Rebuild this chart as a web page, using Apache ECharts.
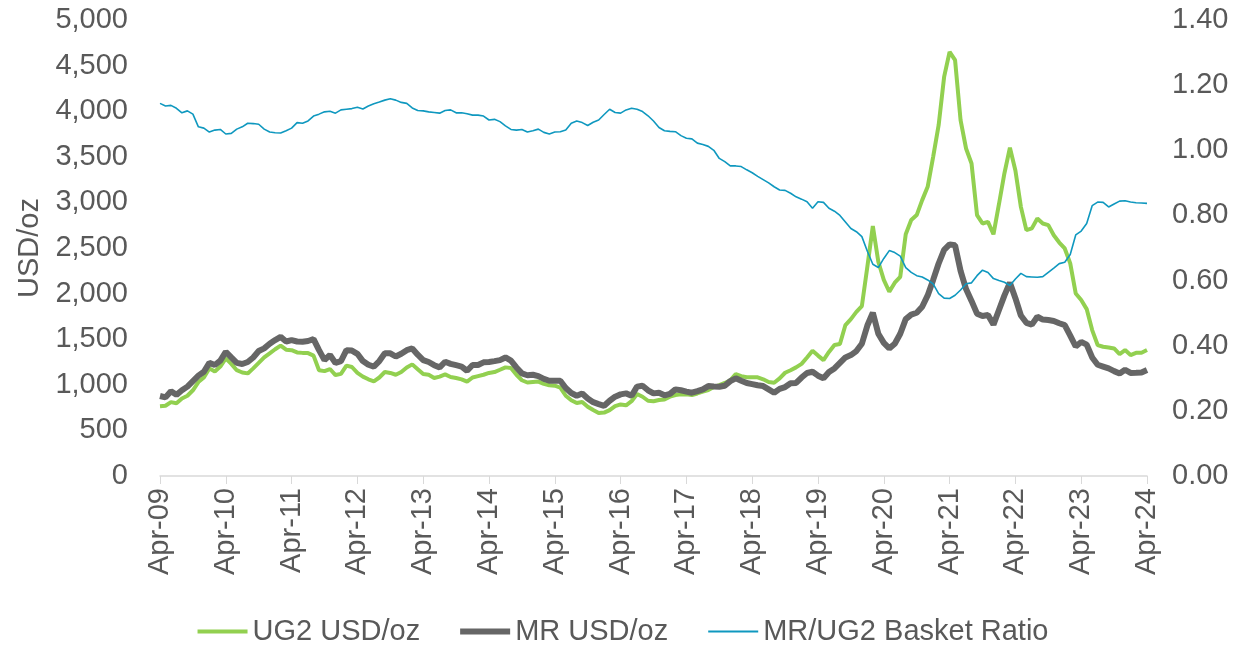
<!DOCTYPE html>
<html>
<head>
<meta charset="utf-8">
<title>UG2 / MR basket</title>
<script src="https://cdn.jsdelivr.net/npm/echarts@6/dist/echarts.min.js"></script>
<style>
  html, body { margin: 0; padding: 0; background: #fff; }
  #chart { width: 1246px; height: 645px; }
</style>
</head>
<body>
<div id="chart"></div>
<script>
// monthly, Apr-09 .. Apr-24
const monthNames = ['Jan', 'Feb', 'Mar', 'Apr', 'May', 'Jun', 'Jul', 'Aug', 'Sep', 'Oct', 'Nov', 'Dec']
const categories = []
for (let i = 0; i < 181; i++) {
  let m = (3 + i) % 12
  let y = 9 + Math.floor((3 + i) / 12)
  categories.push(monthNames[m] + '-' + String(y).padStart(2, '0'))
}

// UG2 basket price, USD/oz
const ug2 = [
  765, 770, 810, 797, 850, 880, 940, 1030, 1080, 1180,
  1145, 1200, 1290, 1230, 1160, 1135, 1125, 1180, 1240, 1300,
  1345, 1390, 1430, 1385, 1380, 1355, 1350, 1348, 1320, 1160,
  1150, 1173, 1107, 1120, 1210, 1195, 1130, 1090, 1060, 1038,
  1080, 1140, 1130, 1110, 1140, 1190, 1224, 1170, 1118, 1110,
  1075, 1090, 1114, 1085, 1075, 1060, 1034, 1080, 1095, 1110,
  1130, 1140, 1165, 1191, 1185, 1110, 1050, 1025, 1030, 1035,
  1010, 995, 990, 970, 880, 830, 800, 812, 760, 723,
  690, 695, 723, 767, 785, 775, 820, 899, 869, 825,
  820, 833, 840, 870, 888, 895, 895, 888, 905, 925,
  943, 975, 997, 1020, 1050, 1118, 1095, 1082, 1082, 1082,
  1060, 1030, 1023, 1070, 1132, 1160, 1191, 1230, 1300, 1373,
  1320, 1271, 1360, 1436, 1447, 1655, 1720, 1800, 1863, 2294,
  2740, 2349, 2150, 2020, 2120, 2184, 2650, 2806, 2861, 3025,
  3171, 3500, 3847, 4376, 4650, 4559, 3902, 3591, 3427, 2861,
  2769, 2787, 2650, 2980, 3320, 3600, 3350, 2951, 2696, 2715,
  2824, 2769, 2751, 2640, 2560, 2495, 2331, 2002, 1930, 1830,
  1600, 1436, 1417, 1410, 1399, 1337, 1381, 1326, 1351, 1351,
  1381
]

// Merensky basket price, USD/oz
const mr = [
  877, 862, 930, 890, 940, 980, 1040, 1100, 1143, 1240,
  1217, 1265, 1362, 1300, 1240, 1228, 1250, 1300, 1370, 1400,
  1450, 1490, 1525, 1475, 1490, 1475, 1472, 1480, 1500, 1380,
  1271, 1326, 1240, 1260, 1380, 1375, 1340, 1260, 1220, 1200,
  1260, 1345, 1345, 1310, 1340, 1380, 1399, 1330, 1271, 1250,
  1215, 1191, 1253, 1230, 1215, 1200, 1154, 1217, 1217, 1246,
  1250, 1260, 1271, 1300, 1265, 1190, 1125, 1105, 1110, 1095,
  1065, 1044, 1044, 1044, 965, 910, 880, 905, 850, 810,
  789, 770, 825, 870, 895, 906, 880, 980, 990, 940,
  906, 913, 885, 900, 950, 940, 925, 913, 930, 950,
  986, 982, 979, 990, 1040, 1071, 1045, 1020, 1008, 995,
  986, 950, 913, 955, 975, 1016, 1020, 1080, 1130, 1143,
  1100, 1071, 1140, 1180, 1240, 1300, 1326, 1370, 1450, 1650,
  1790, 1560, 1460, 1399, 1450, 1560, 1720, 1770, 1790, 1856,
  1980, 2150, 2330, 2480, 2540, 2530, 2250, 2050, 1920, 1780,
  1755, 1765, 1660, 1820, 1980, 2120, 1950, 1760, 1680, 1660,
  1746, 1715, 1710, 1700, 1675, 1655, 1540, 1420, 1470, 1440,
  1300, 1220, 1200, 1180, 1150, 1125, 1165, 1130, 1132, 1135,
  1162
]

// MR/UG2 basket ratio (right axis)
const ratio = [
  1.144, 1.136, 1.138, 1.129, 1.115, 1.121, 1.111, 1.072, 1.068, 1.056,
  1.062, 1.064, 1.050, 1.052, 1.065, 1.072, 1.083, 1.082, 1.080, 1.065,
  1.056, 1.054, 1.053, 1.060, 1.068, 1.085, 1.083, 1.090, 1.105, 1.111,
  1.118, 1.120, 1.114, 1.124, 1.126, 1.128, 1.132, 1.127, 1.136, 1.143,
  1.148, 1.154, 1.158, 1.154, 1.147, 1.144, 1.130, 1.122, 1.121, 1.118,
  1.116, 1.114, 1.122, 1.124, 1.115, 1.115, 1.112, 1.108, 1.108, 1.105,
  1.093, 1.095, 1.088, 1.075, 1.064, 1.062, 1.064, 1.056, 1.060, 1.065,
  1.055, 1.050, 1.056, 1.057, 1.062, 1.083, 1.090, 1.085, 1.076, 1.086,
  1.093, 1.110, 1.126, 1.116, 1.114, 1.124, 1.129, 1.126, 1.119, 1.106,
  1.090, 1.070, 1.060, 1.058, 1.057, 1.045, 1.037, 1.035, 1.022, 1.018,
  1.012, 1.000, 0.975, 0.965, 0.952, 0.952, 0.950, 0.940, 0.931, 0.920,
  0.910, 0.900, 0.888, 0.878, 0.877, 0.868, 0.857, 0.850, 0.842, 0.822,
  0.842, 0.840, 0.822, 0.813, 0.800, 0.780, 0.760, 0.750, 0.735, 0.690,
  0.650, 0.640, 0.668, 0.692, 0.686, 0.675, 0.640, 0.625, 0.615, 0.611,
  0.602, 0.590, 0.560, 0.546, 0.545, 0.555, 0.571, 0.590, 0.593, 0.615,
  0.632, 0.625, 0.606, 0.600, 0.595, 0.585, 0.605, 0.622, 0.612, 0.611,
  0.610, 0.612, 0.625, 0.638, 0.652, 0.656, 0.680, 0.740, 0.752, 0.775,
  0.830, 0.841, 0.840, 0.826, 0.835, 0.844, 0.845, 0.841, 0.839, 0.838,
  0.837
]

const textColor = '#595959'
const font = 'Liberation Sans'

let myChart = echarts.init(document.getElementById('chart'))
let option = {
  animation: false,
  textStyle: { fontFamily: font },
  grid: {
    left: 160,
    right: 99,
    top: 20,
    bottom: 169,
    containLabel: false
  },
  legend: {
    bottom: -6,
    left: 'center',
    itemWidth: 50,
    itemHeight: 14,
    itemGap: 40,
    textStyle: { color: textColor, fontSize: 29, fontFamily: font },
    // plain bars as legend keys, thickness follows each line
    data: [
      { name: 'UG2 USD/oz', icon: 'path://M0,0 L50,0 L50,4 L0,4 Z' },
      { name: 'MR USD/oz', icon: 'path://M0,0 L50,0 L50,6 L0,6 Z' },
      { name: 'MR/UG2 Basket Ratio', icon: 'path://M0,0 L50,0 L50,2 L0,2 Z' }
    ]
  },
  xAxis: {
    type: 'category',
    data: categories,
    boundaryGap: false,
    axisLine: { lineStyle: { color: '#d9d9d9', width: 1.5 } },
    axisTick: { interval: 11, length: 8, lineStyle: { color: '#d9d9d9' } },
    axisLabel: {
      interval: 11,
      rotate: 90,
      margin: 12,
      color: textColor,
      fontSize: 29
    }
  },
  yAxis: [
    {
      type: 'value',
      min: 0,
      max: 5000,
      interval: 500,
      name: 'USD/oz',
      nameLocation: 'middle',
      nameGap: 112,
      nameRotate: 90,
      nameTextStyle: { color: textColor, fontSize: 29 },
      splitLine: { show: false },
      axisLine: { show: false },
      axisTick: { show: false },
      axisLabel: {
        margin: 32,
        color: textColor,
        fontSize: 29,
        formatter: v => v.toLocaleString('en-US')
      }
    },
    {
      type: 'value',
      min: 0,
      max: 1.4,
      interval: 0.2,
      splitLine: { show: false },
      axisLine: { show: false },
      axisTick: { show: false },
      axisLabel: {
        margin: 25,
        color: textColor,
        fontSize: 29,
        formatter: v => v.toFixed(2)
      }
    }
  ],
  series: [
    {
      name: 'UG2 USD/oz',
      type: 'line',
      data: ug2,
      symbol: 'none',
      color: '#92d050',
      lineStyle: { width: 4, color: '#92d050' }
    },
    {
      name: 'MR USD/oz',
      type: 'line',
      data: mr,
      symbol: 'none',
      color: '#666666',
      lineStyle: { width: 6, color: '#666666' }
    },
    {
      name: 'MR/UG2 Basket Ratio',
      type: 'line',
      yAxisIndex: 1,
      data: ratio,
      symbol: 'none',
      color: '#0f98bf',
      lineStyle: { width: 1.6, color: '#0f98bf' }
    }
  ]
}

myChart.setOption(option)
</script>
</body>
</html>
